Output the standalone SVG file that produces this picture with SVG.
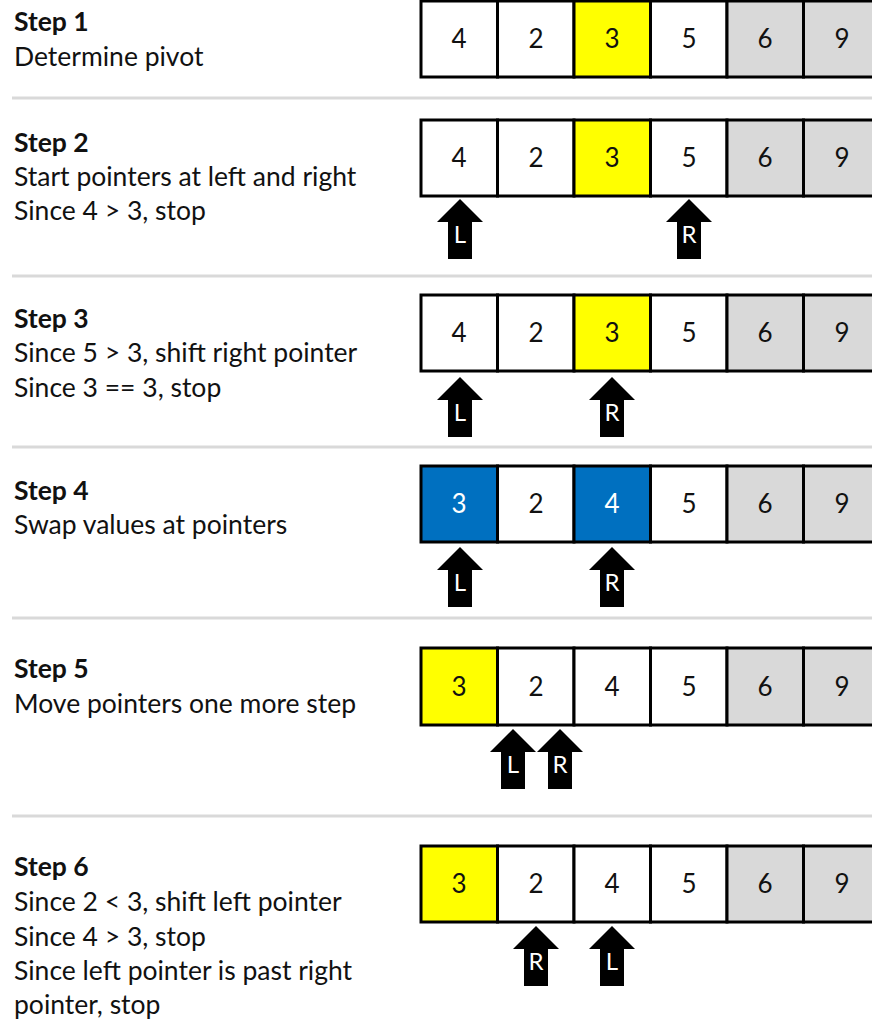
<svg xmlns="http://www.w3.org/2000/svg" xmlns:xlink="http://www.w3.org/1999/xlink" width="872" height="1021" viewBox="0 0 872 1021">
<style>
.t{font-family:Lato,"Open Sans","Liberation Sans",sans-serif;font-size:26.5px;fill:#111}
.h{font-weight:bold}
.c{stroke:#000;stroke-width:3;fill:#fff}
.y{fill:#ffff00}
.g{fill:#d9d9d9}
.b{fill:#0070c0}
.n{font-family:Lato,"Open Sans","Liberation Sans",sans-serif;font-size:26px;fill:#111;text-anchor:middle}
.nw{fill:#fff}
.a{fill:#000}
.al{font-family:Lato,"Open Sans","Liberation Sans",sans-serif;font-size:24px;fill:#fff;text-anchor:middle}
.sep{stroke:#d9d9d9;stroke-width:3}
</style>
<defs>
<path id="arr" d="M0,0 L23,23 L12,23 L12,60 L-12,60 L-12,23 L-23,23 Z"/>
</defs>
<g id="separators">
<line class="sep" x1="12" y1="98" x2="872" y2="98"/>
<line class="sep" x1="12" y1="276" x2="872" y2="276"/>
<line class="sep" x1="12" y1="447" x2="872" y2="447"/>
<line class="sep" x1="12" y1="618" x2="872" y2="618"/>
<line class="sep" x1="12" y1="816" x2="872" y2="816"/>
</g>
<g id="step1">
<text class="t h" x="14" y="31">Step 1</text>
<text class="t" x="14" y="66">Determine pivot</text>
<rect class="c" x="421" y="1" width="76.5" height="76"/>
<rect class="c" x="497.5" y="1" width="76.5" height="76"/>
<rect class="c y" x="574" y="1" width="76.5" height="76"/>
<rect class="c" x="650.5" y="1" width="76.5" height="76"/>
<rect class="c g" x="727" y="1" width="76.5" height="76"/>
<rect class="c g" x="803.5" y="1" width="76.5" height="76"/>
<text class="n" x="459" y="48">4</text>
<text class="n" x="536" y="48">2</text>
<text class="n" x="612" y="48">3</text>
<text class="n" x="689" y="48">5</text>
<text class="n" x="765" y="48">6</text>
<text class="n" x="842" y="48">9</text>
</g>
<g id="step2">
<text class="t h" x="14" y="152">Step 2</text>
<text class="t" x="14" y="186">Start pointers at left and right</text>
<text class="t" x="14" y="220">Since 4 &gt; 3, stop</text>
<rect class="c" x="421" y="120" width="76.5" height="76"/>
<rect class="c" x="497.5" y="120" width="76.5" height="76"/>
<rect class="c y" x="574" y="120" width="76.5" height="76"/>
<rect class="c" x="650.5" y="120" width="76.5" height="76"/>
<rect class="c g" x="727" y="120" width="76.5" height="76"/>
<rect class="c g" x="803.5" y="120" width="76.5" height="76"/>
<text class="n" x="459" y="167">4</text>
<text class="n" x="536" y="167">2</text>
<text class="n" x="612" y="167">3</text>
<text class="n" x="689" y="167">5</text>
<text class="n" x="765" y="167">6</text>
<text class="n" x="842" y="167">9</text>
</g>
<g id="step3">
<text class="t h" x="14" y="328">Step 3</text>
<text class="t" x="14" y="362">Since 5 &gt; 3, shift right pointer</text>
<text class="t" x="14" y="397">Since 3 == 3, stop</text>
<rect class="c" x="421" y="295" width="76.5" height="76"/>
<rect class="c" x="497.5" y="295" width="76.5" height="76"/>
<rect class="c y" x="574" y="295" width="76.5" height="76"/>
<rect class="c" x="650.5" y="295" width="76.5" height="76"/>
<rect class="c g" x="727" y="295" width="76.5" height="76"/>
<rect class="c g" x="803.5" y="295" width="76.5" height="76"/>
<text class="n" x="459" y="342">4</text>
<text class="n" x="536" y="342">2</text>
<text class="n" x="612" y="342">3</text>
<text class="n" x="689" y="342">5</text>
<text class="n" x="765" y="342">6</text>
<text class="n" x="842" y="342">9</text>
</g>
<g id="step4">
<text class="t h" x="14" y="500">Step 4</text>
<text class="t" x="14" y="534">Swap values at pointers</text>
<rect class="c b" x="421" y="466" width="76.5" height="76"/>
<rect class="c" x="497.5" y="466" width="76.5" height="76"/>
<rect class="c b" x="574" y="466" width="76.5" height="76"/>
<rect class="c" x="650.5" y="466" width="76.5" height="76"/>
<rect class="c g" x="727" y="466" width="76.5" height="76"/>
<rect class="c g" x="803.5" y="466" width="76.5" height="76"/>
<text class="n nw" x="459" y="513">3</text>
<text class="n" x="536" y="513">2</text>
<text class="n nw" x="612" y="513">4</text>
<text class="n" x="689" y="513">5</text>
<text class="n" x="765" y="513">6</text>
<text class="n" x="842" y="513">9</text>
</g>
<g id="step5">
<text class="t h" x="14" y="678">Step 5</text>
<text class="t" x="14" y="713">Move pointers one more step</text>
<rect class="c y" x="421" y="648" width="76.5" height="77"/>
<rect class="c" x="497.5" y="648" width="76.5" height="77"/>
<rect class="c" x="574" y="648" width="76.5" height="77"/>
<rect class="c" x="650.5" y="648" width="76.5" height="77"/>
<rect class="c g" x="727" y="648" width="76.5" height="77"/>
<rect class="c g" x="803.5" y="648" width="76.5" height="77"/>
<text class="n" x="459" y="696">3</text>
<text class="n" x="536" y="696">2</text>
<text class="n" x="612" y="696">4</text>
<text class="n" x="689" y="696">5</text>
<text class="n" x="765" y="696">6</text>
<text class="n" x="842" y="696">9</text>
</g>
<g id="step6">
<text class="t h" x="14" y="876">Step 6</text>
<text class="t" x="14" y="911">Since 2 &lt; 3, shift left pointer</text>
<text class="t" x="14" y="946">Since 4 &gt; 3, stop</text>
<text class="t" x="14" y="980">Since left pointer is past right</text>
<text class="t" x="14" y="1014">pointer, stop</text>
<rect class="c y" x="421" y="846" width="76.5" height="76"/>
<rect class="c" x="497.5" y="846" width="76.5" height="76"/>
<rect class="c" x="574" y="846" width="76.5" height="76"/>
<rect class="c" x="650.5" y="846" width="76.5" height="76"/>
<rect class="c g" x="727" y="846" width="76.5" height="76"/>
<rect class="c g" x="803.5" y="846" width="76.5" height="76"/>
<text class="n" x="459" y="893">3</text>
<text class="n" x="536" y="893">2</text>
<text class="n" x="612" y="893">4</text>
<text class="n" x="689" y="893">5</text>
<text class="n" x="765" y="893">6</text>
<text class="n" x="842" y="893">9</text>
</g>
<g id="pointers">
<use class="a" xlink:href="#arr" x="460" y="199"/>
<text class="al" x="460" y="243">L</text>
<use class="a" xlink:href="#arr" x="689" y="199"/>
<text class="al" x="689" y="243">R</text>
<use class="a" xlink:href="#arr" x="460" y="377"/>
<text class="al" x="460" y="421">L</text>
<use class="a" xlink:href="#arr" x="612" y="377"/>
<text class="al" x="612" y="421">R</text>
<use class="a" xlink:href="#arr" x="460" y="547"/>
<text class="al" x="460" y="591">L</text>
<use class="a" xlink:href="#arr" x="612" y="547"/>
<text class="al" x="612" y="591">R</text>
<use class="a" xlink:href="#arr" x="513" y="729"/>
<text class="al" x="513" y="773">L</text>
<use class="a" xlink:href="#arr" x="560" y="729"/>
<text class="al" x="560" y="773">R</text>
<use class="a" xlink:href="#arr" x="536" y="926"/>
<text class="al" x="536" y="970">R</text>
<use class="a" xlink:href="#arr" x="612" y="926"/>
<text class="al" x="612" y="970">L</text>
</g>
</svg>
